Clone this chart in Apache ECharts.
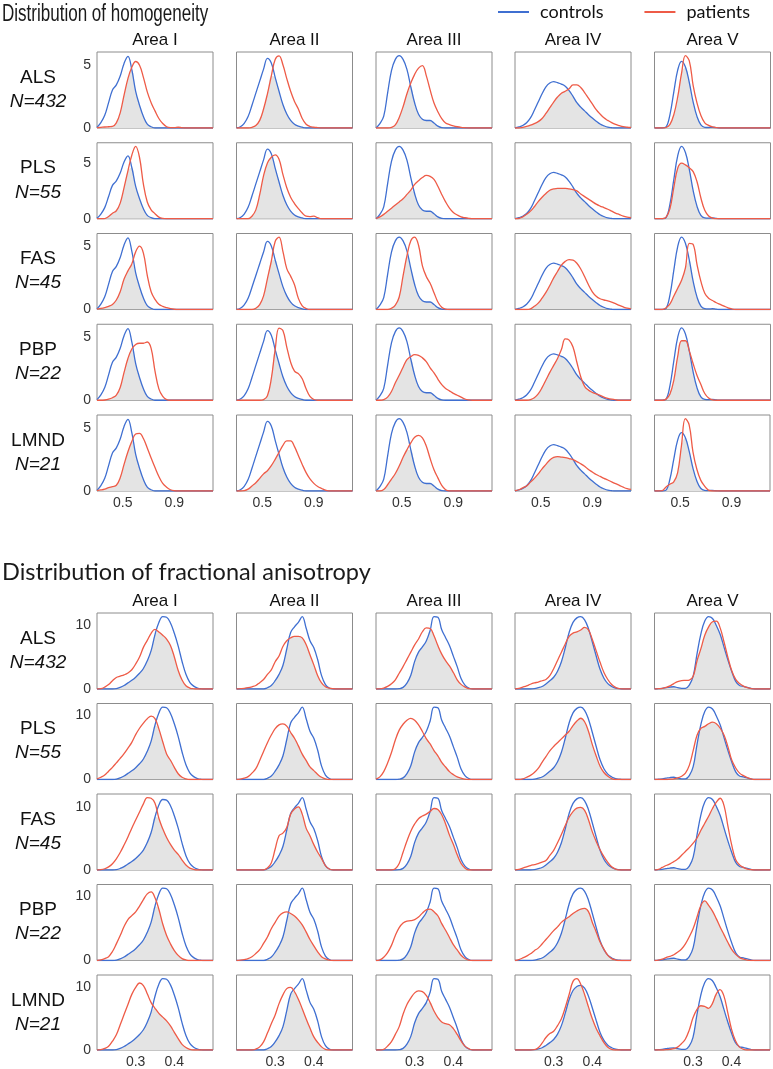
<!DOCTYPE html>
<html><head><meta charset="utf-8">
<script src="https://cdn.jsdelivr.net/npm/echarts@6/dist/echarts.min.js"></script>
<style>html,body{margin:0;padding:0;background:#fff}#c{width:773px;height:1069px}</style>
</head><body><div id="c"></div>
<script>
// ---------- labels ----------
const groups = ['ALS', 'PLS', 'FAS', 'PBP', 'LMND'];
const groupN = ['N=432', 'N=55', 'N=45', 'N=22', 'N=21'];
const areas = ['Area I', 'Area II', 'Area III', 'Area IV', 'Area V'];
const sectionTitles = ['Distribution of homogeneity', 'Distribution of fractional anisotropy'];
const seriesNames = ['controls', 'patients'];

// ---------- homogeneity: x grid, tick labels ----------
const homogX = [0.30,0.33,0.36,0.39,0.42,0.45,0.48,0.51,0.54,0.57,0.60,0.63,0.66,0.69,0.72,0.75,0.78,0.81,0.84,0.87,0.90,0.93,0.96,0.99,1.02,1.05,1.08,1.11,1.14,1.17,1.20];
const homogTicks = [0.5, 0.9];
// controls density, one array per area (I..V)
const homogControls = [
  [0.05,0.42,1.0,2.0,3.0,3.4,4.1,5.1,5.65,4.6,2.9,1.8,0.9,0.3,0.1,0,0,0,0,0,0,0,0,0,0,0,0,0,0,0,0],
  [0,0.1,0.37,0.9,1.8,2.75,3.7,4.65,5.5,5.13,4.0,2.9,1.85,1.1,0.6,0.3,0.15,0.06,0,0,0,0,0,0,0,0,0,0,0,0,0],
  [0,0.35,0.95,2.8,4.6,5.5,5.8,5.5,4.7,3.3,2.0,1.1,0.7,0.6,0.6,0.4,0.15,0.03,0,0,0,0,0,0,0,0,0,0,0,0,0],
  [0,0.08,0.2,0.42,0.8,1.4,2.05,2.7,3.25,3.55,3.66,3.58,3.47,3.3,2.95,2.5,2.0,1.65,1.35,1.05,0.78,0.54,0.32,0.17,0.06,0.02,0,0,0,0,0],
  [0,0,0,0.1,1.3,3.5,5.6,6.45,5.9,4.4,2.5,1.1,0.3,0.07,0.05,0.07,0.03,0,0,0,0,0,0,0,0,0,0,0,0,0,0]
];
// patients density, one array per group, one row per area (I..V)
const homogALS = [
  [0.02,0.05,0.08,0.1,0.12,0.4,1.2,2.6,3.9,4.8,5.25,4.95,4.0,2.85,2.0,1.35,0.75,0.35,0.1,0.03,0.03,0.06,0.02,0,0,0,0,0,0,0,0],
  [0,0,0,0,0.05,0.2,0.6,1.5,2.7,4.1,5.4,5.7,5.0,3.9,2.9,2.1,1.5,0.75,0.3,0.12,0.06,0.03,0,0,0,0,0,0,0,0,0],
  [0,0,0,0,0.05,0.25,0.85,1.7,2.75,3.6,4.3,4.8,5.0,4.2,3.05,2.0,1.3,0.75,0.4,0.27,0.17,0.1,0.05,0.02,0,0,0,0,0,0,0],
  [0,0,0.05,0.12,0.22,0.35,0.5,0.75,1.15,1.6,2.05,2.45,2.75,2.9,3.1,3.4,3.4,3.2,2.8,2.35,1.9,1.45,1.1,0.8,0.6,0.42,0.28,0.18,0.1,0.06,0.04],
  [0,0,0,0.05,0.35,1.3,3.0,5.3,7.0,6.5,4.1,2.4,1.2,0.5,0.25,0.1,0.03,0,0,0,0,0,0,0,0,0,0,0,0,0,0]
];
const homogPLS = [
  [0,0,0.02,0.2,0.5,0.72,1.4,2.8,4.3,5.7,6.5,5.5,3.1,1.5,0.8,0.45,0.15,0.03,0,0,0,0,0,0,0,0,0,0,0,0,0],
  [0,0,0,0,0.2,0.7,1.9,3.4,4.4,4.85,5.05,4.7,3.5,2.45,1.7,1.2,0.8,0.45,0.2,0.17,0.2,0.08,0,0,0,0,0,0,0,0,0],
  [0.02,0.15,0.35,0.6,0.85,1.1,1.35,1.6,1.95,2.3,2.75,3.05,3.3,3.48,3.4,3.15,2.6,1.95,1.35,0.85,0.5,0.3,0.15,0.08,0.03,0,0,0,0,0,0],
  [0,0.02,0.15,0.35,0.6,0.95,1.35,1.7,2.0,2.25,2.35,2.4,2.4,2.4,2.35,2.3,2.2,1.95,1.75,1.55,1.35,1.15,1.0,0.88,0.75,0.6,0.45,0.33,0.2,0.12,0.08],
  [0,0,0,0.15,0.9,2.8,4.5,4.95,4.8,4.55,4.2,3.3,1.85,0.75,0.25,0.05,0,0,0,0,0,0,0,0,0,0,0,0,0,0,0]
];
const homogFAS = [
  [0.03,0.08,0.15,0.25,0.4,0.75,1.4,2.4,3.05,3.6,4.55,5.0,4.45,2.7,1.4,0.8,0.42,0.25,0.15,0.07,0.02,0,0,0,0,0,0,0,0,0,0],
  [0,0,0,0,0,0.1,0.4,1.1,2.5,3.9,5.5,5.85,4.7,3.3,2.7,2.0,0.9,0.3,0.08,0,0,0,0,0,0,0,0,0,0,0,0],
  [0,0,0,0,0.1,0.35,1.0,2.7,4.3,5.5,5.8,5.15,3.5,2.65,2.1,1.35,0.6,0.18,0.03,0,0,0,0,0,0,0,0,0,0,0,0],
  [0,0,0,0,0.05,0.25,0.5,0.9,1.35,1.9,2.5,3.0,3.5,3.8,3.93,3.9,3.65,3.2,2.6,1.95,1.4,1.05,0.85,0.75,0.68,0.58,0.46,0.32,0.2,0.1,0.05],
  [0,0,0,0.15,0.5,1.2,1.9,2.6,3.7,5.9,5.8,4.0,2.5,1.45,1.0,0.8,0.6,0.45,0.3,0.15,0.05,0,0,0,0,0,0,0,0,0,0]
];
const homogPBP = [
  [0,0,0.02,0.08,0.2,0.4,1.0,2.2,3.3,4.05,4.4,4.5,4.5,4.6,4.1,2.3,0.9,0.3,0.05,0,0,0,0,0,0,0,0,0,0,0,0],
  [0,0,0,0,0,0,0,0.05,0.35,1.7,4.0,5.7,5.5,4.2,3.0,2.3,2.1,1.7,0.9,0.3,0.06,0,0,0,0,0,0,0,0,0,0],
  [0,0,0.05,0.25,0.7,1.4,2.0,2.65,3.25,3.5,3.65,3.6,3.4,3.1,2.6,2.2,1.7,1.25,0.95,0.75,0.55,0.4,0.25,0.1,0.03,0,0,0,0,0,0],
  [0,0,0,0,0.05,0.2,0.5,1.0,1.6,2.2,2.75,3.3,4.0,4.85,4.75,4.2,3.0,1.85,1.1,0.8,0.62,0.5,0.38,0.25,0.15,0.08,0.03,0,0,0,0],
  [0,0,0,0.1,0.55,1.8,3.9,5.3,5.3,4.4,3.25,2.2,1.4,0.6,0.2,0.03,0,0,0,0,0,0,0,0,0,0,0,0,0,0,0]
];
const homogLMND = [
  [0.03,0.08,0.15,0.27,0.35,0.45,1.05,2.1,3.1,3.9,4.5,4.55,4.15,3.4,2.6,1.85,1.15,0.6,0.3,0.1,0.02,0,0,0,0,0,0,0,0,0,0],
  [0,0,0.03,0.15,0.4,0.65,1.0,1.35,1.6,2.0,2.5,3.05,3.6,3.95,3.95,3.5,2.8,2.1,1.45,0.95,0.6,0.35,0.2,0.07,0,0,0,0,0,0,0],
  [0,0,0.12,0.5,0.95,1.4,2.0,2.7,3.3,3.85,4.3,4.45,4.25,3.6,2.6,1.7,1.05,0.45,0.1,0,0,0,0,0,0,0,0,0,0,0,0],
  [0.02,0.1,0.25,0.4,0.7,1.0,1.35,1.75,2.1,2.45,2.65,2.72,2.68,2.63,2.56,2.48,2.32,2.15,1.95,1.7,1.5,1.3,1.15,1.0,0.87,0.72,0.58,0.45,0.3,0.18,0.12],
  [0,0,0.05,0.45,0.75,1.0,2.0,5.0,8.0,7.3,4.3,2.4,1.2,0.55,0.1,0,0,0,0,0,0,0,0,0,0,0,0,0,0,0,0]
];

// ---------- fractional anisotropy ----------
const faX = [0.20,0.21,0.22,0.23,0.24,0.25,0.26,0.27,0.28,0.29,0.30,0.31,0.32,0.33,0.34,0.35,0.36,0.37,0.38,0.39,0.40,0.41,0.42,0.43,0.44,0.45,0.46,0.47,0.48,0.49,0.50];
const faTicks = [0.3, 0.4];
const faControls = [
  [0,0,0,0,0,0.05,0.25,0.55,0.95,1.35,1.85,2.45,3.2,4.4,6.0,8.5,10.4,11.3,11.2,10.3,8.7,6.7,4.3,2.3,1.05,0.45,0.15,0.03,0,0,0],
  [0,0,0,0,0,0,0,0,0.2,0.55,1.3,2.3,3.7,6.3,8.9,9.8,10.5,11.4,9.6,7.6,6.5,4.6,2.1,0.7,0.15,0,0,0,0,0,0],
  [0,0,0,0,0,0,0.05,0.25,0.9,2.1,4.2,5.6,6.4,7.3,8.9,11.0,10.9,9.0,7.8,6.6,5.0,3.4,1.6,0.6,0.15,0,0,0,0,0,0],
  [0,0,0,0,0,0.05,0.2,0.4,0.8,1.3,1.85,2.8,4.3,6.5,8.9,10.5,11.2,11.4,10.9,9.5,7.4,5.2,3.1,1.7,0.85,0.4,0.15,0.05,0,0,0],
  [0,0.05,0.1,0.2,0.3,0.35,0.2,0.1,0.1,0.6,2.0,5.5,8.6,10.6,11.3,11.0,9.9,8.5,6.5,4.5,2.7,1.2,0.55,0.4,0.25,0.08,0,0,0,0,0]
];
const faALS = [
  [0,0.05,0.3,0.7,1.3,1.8,2.0,2.2,2.5,3.0,3.9,5.0,6.5,7.6,8.7,9.3,8.9,8.4,7.8,6.8,5.0,2.9,1.4,0.5,0.15,0.03,0,0,0,0,0],
  [0,0.05,0.1,0.2,0.35,0.55,1.0,1.5,2.3,3.0,4.3,5.2,6.7,7.6,8.05,8.3,8.3,8.05,7.0,5.4,3.8,2.1,0.95,0.35,0.15,0.05,0,0,0,0,0],
  [0,0.02,0.15,0.4,0.8,1.4,2.4,3.4,4.5,5.6,6.7,7.6,8.7,9.3,9.2,8.1,6.6,5.3,4.3,3.5,2.5,1.4,0.7,0.3,0.05,0,0,0,0,0,0],
  [0,0.1,0.3,0.5,0.75,0.95,1.1,1.3,1.5,2.1,3.2,4.5,5.8,7.1,8.3,8.8,9.0,9.3,9.7,9.3,7.8,6.0,4.2,2.6,1.5,0.7,0.25,0.05,0,0,0],
  [0,0.05,0.1,0.25,0.5,0.85,1.15,1.3,1.35,1.4,2.0,4.4,6.3,8.4,9.7,10.5,10.6,9.5,7.3,4.9,2.8,1.5,0.85,0.45,0.2,0.05,0,0,0,0,0]
];
const faPLS = [
  [0.1,0.35,0.7,1.3,1.9,2.6,3.3,4.05,4.9,5.8,7.0,8.0,8.8,9.5,9.9,9.5,7.9,5.9,4.0,3.0,1.9,0.9,0.35,0.1,0,0,0,0,0,0,0],
  [0,0.05,0.2,0.45,1.0,1.7,3.0,4.4,5.8,7.0,8.0,8.6,8.75,8.4,7.4,6.5,5.3,4.0,3.0,2.0,1.4,0.8,0.35,0.1,0,0,0,0,0,0,0],
  [0.05,0.4,1.2,2.5,4.1,6.0,7.5,8.4,9.0,9.28,9.0,8.3,7.3,6.2,5.4,4.4,3.6,2.6,1.9,1.2,0.75,0.4,0.2,0.05,0,0,0,0,0,0,0],
  [0,0,0.1,0.35,0.65,1.1,1.75,2.7,3.6,4.5,5.2,5.8,6.4,7.0,7.6,8.5,9.2,9.65,9.1,7.6,5.5,3.7,2.1,1.1,0.5,0.15,0,0,0,0,0],
  [0,0,0,0,0.05,0.1,0.25,0.5,1.0,2.2,4.5,6.9,8.0,8.3,8.7,8.95,8.7,8.0,6.9,5.1,3.0,1.8,1.0,0.6,0.3,0.1,0,0,0,0,0]
];
const faFAS = [
  [0,0.05,0.2,0.5,1.0,1.8,2.8,4.0,5.3,6.7,8.0,9.3,10.6,11.6,11.5,10.7,8.3,6.6,5.2,4.1,3.2,2.5,1.6,0.8,0.3,0.1,0,0,0,0,0],
  [0,0,0,0,0,0,0,0,0.3,1.1,3.3,5.4,5.8,6.7,8.8,9.6,9.95,8.8,6.6,5.4,4.0,2.8,1.8,0.7,0.15,0,0,0,0,0,0],
  [0,0,0,0,0,0.2,1.0,2.7,4.4,5.9,7.0,7.8,8.2,8.5,8.9,9.35,9.2,8.4,7.0,5.3,3.9,2.3,1.0,0.3,0,0,0,0,0,0,0],
  [0,0.1,0.3,0.5,0.7,0.85,1.0,1.25,1.5,2.3,3.1,4.3,5.6,7.0,8.3,9.2,9.75,9.85,9.4,7.9,6.0,4.5,3.2,2.1,1.2,0.5,0.15,0,0,0,0],
  [0,0.1,0.4,0.7,0.95,1.3,1.7,2.3,2.9,3.5,4.2,5.0,6.2,7.3,8.4,9.6,10.6,11.2,10.0,6.8,3.8,1.6,0.8,0.4,0.15,0.05,0,0,0,0,0]
];
const faPBP = [
  [0,0.1,0.3,0.6,1.4,2.6,3.9,5.3,6.4,7.0,7.6,8.5,9.5,10.4,10.7,9.8,8.0,5.7,3.9,2.6,1.55,0.8,0.3,0.1,0,0,0,0,0,0,0],
  [0,0.05,0.15,0.3,0.6,1.1,1.7,2.7,3.7,5.0,6.0,7.0,7.5,7.65,7.4,7.0,6.4,5.6,4.5,3.3,2.3,1.35,0.6,0.25,0.05,0,0,0,0,0,0],
  [0,0.1,0.5,1.2,2.3,3.8,5.0,5.7,6.0,6.05,6.2,6.6,7.2,7.7,7.8,7.4,6.8,5.6,4.6,3.5,2.4,1.6,0.8,0.3,0.05,0,0,0,0,0,0],
  [0,0.15,0.4,0.7,1.05,1.55,1.95,2.6,3.3,4.0,4.7,5.3,6.0,6.5,6.9,7.4,7.8,8.1,8.2,7.7,6.0,4.5,2.9,1.8,0.8,0.3,0.1,0,0,0,0],
  [0,0.05,0.2,0.45,0.65,0.9,1.3,1.8,2.6,3.7,5.0,6.8,8.6,9.3,8.6,7.7,6.5,5.2,4.0,2.8,1.7,0.95,0.45,0.2,0.05,0,0,0,0,0,0]
];
const faLMND = [
  [0,0.05,0.25,0.6,1.4,2.4,4.0,5.6,7.2,8.8,9.9,10.6,10.2,8.9,7.5,6.6,5.8,5.2,4.6,3.8,2.8,1.8,0.9,0.4,0.1,0,0,0,0,0,0],
  [0,0,0,0,0,0.15,0.5,1.3,2.7,4.2,5.6,7.4,8.8,9.8,10.0,9.3,8.1,6.6,5.0,3.5,2.1,1.2,0.5,0.1,0,0,0,0,0,0,0],
  [0,0,0.1,0.6,1.3,2.4,3.6,5.5,7.0,8.0,8.8,9.1,9.0,8.4,7.3,6.0,5.0,4.3,4.05,3.9,3.3,2.4,1.4,0.6,0.2,0,0,0,0,0,0],
  [0,0,0,0,0,0.05,0.4,1.2,2.2,2.9,3.3,4.3,5.5,7.5,9.8,12.1,12.6,11.6,9.8,7.6,5.5,3.8,2.5,1.3,0.5,0.1,0,0,0,0,0],
  [0,0,0,0.05,0.1,0.2,0.45,1.0,1.7,3.1,5.1,6.4,7.0,6.9,6.6,7.3,8.8,9.55,8.6,6.0,3.3,1.5,0.5,0.15,0,0,0,0,0,0,0]
];

// ---------- layout / style ----------
const BLUE = '#3f6fd1', RED = '#ee5b47', FILL = '#e4e4e4';
const AX_FONT = 'Liberation Sans, Arial, Helvetica, sans-serif';
const colLefts = [97, 236.5, 376, 515, 654.5];
const PW = 116, PH = 76;
const sections = [
  { title: sectionTitles[0], titleY: 15, titleFont: '23px ' + AX_FONT, titleScale: 0.74,
    x: homogX, ctrl: homogControls, pats: [homogALS, homogPLS, homogFAS, homogPBP, homogLMND],
    tops: [52, 142.75, 233.5, 324.25, 415], xmin: 0.3, xmax: 1.2, ticks: homogTicks, yInt: 5, yFloor: 6 },
  { title: sectionTitles[1], titleY: 572, titleFont: '23.5px Lato, Open Sans, sans-serif', titleScale: 1,
    x: faX, ctrl: faControls, pats: [faALS, faPLS, faFAS, faPBP, faLMND],
    tops: [613, 703.5, 794, 884.5, 975], xmin: 0.2, xmax: 0.5, ticks: faTicks, yInt: 10, yFloor: 0 }
];

const grid = [], xAxis = [], yAxis = [], series = [], graphic = [];
let k = 0;
sections.forEach(function (s) {
  graphic.push({ type: 'text', x: 2, y: s.titleY, scaleX: s.titleScale,
    style: { text: s.title, font: s.titleFont, fill: '#1a1a1a', textAlign: 'left', textVerticalAlign: 'middle' } });
  areas.forEach(function (a, c) {
    graphic.push({ type: 'text', x: colLefts[c] + PW / 2, y: s.tops[0] - 12,
      style: { text: a, font: '17px ' + AX_FONT, fill: '#111', textAlign: 'center', textVerticalAlign: 'middle' } });
  });
  groups.forEach(function (g, r) {
    const cy = s.tops[r] + PH / 2;
    graphic.push({ type: 'text', x: 38, y: cy - 12.5,
      style: { text: g, font: '19px ' + AX_FONT, fill: '#111', textAlign: 'center', textVerticalAlign: 'middle' } });
    graphic.push({ type: 'text', x: 38, y: cy + 11.5,
      style: { text: groupN[r], font: 'italic 19px ' + AX_FONT, fill: '#111', textAlign: 'center', textVerticalAlign: 'middle' } });
    areas.forEach(function (a, c) {
      const ctrl = s.ctrl[c], pat = s.pats[r][c];
      const dmax = Math.max(Math.max.apply(null, ctrl), Math.max.apply(null, pat));
      const yMax = Math.max(s.yFloor, dmax * 1.05);
      grid.push({ left: colLefts[c], top: s.tops[r], width: PW, height: PH, show: true,
        borderColor: '#8c8c8c', borderWidth: 1, backgroundColor: '#fff' });
      const ticks = s.ticks;
      xAxis.push({ gridIndex: k, type: 'value', min: s.xmin, max: s.xmax, interval: 0.1,
        axisLine: { show: false }, axisTick: { show: false }, splitLine: { show: false },
        axisLabel: { show: r === 4, margin: 5, fontSize: 14, color: '#333', fontFamily: AX_FONT,
          formatter: function (v) { return ticks.some(function (t) { return Math.abs(t - v) < 1e-6; }) ? v.toFixed(1) : ''; } } });
      const yInt = s.yInt;
      yAxis.push({ gridIndex: k, type: 'value', min: 0, max: yMax, interval: yInt,
        axisLine: { show: false }, axisTick: { show: false }, splitLine: { show: false },
        axisLabel: { show: c === 0, margin: 6, fontSize: 14, color: '#333', fontFamily: AX_FONT,
          formatter: function (v) { return Math.abs(v / yInt - Math.round(v / yInt)) < 1e-6 ? String(Math.round(v)) : ''; } } });
      series.push({ type: 'line', name: 'overlap', xAxisIndex: k, yAxisIndex: k, silent: true, z: 1,
        data: s.x.map(function (xv, i) { return [xv, Math.min(ctrl[i], pat[i])]; }),
        smooth: 0.4, symbol: 'none', lineStyle: { width: 0, opacity: 0 }, areaStyle: { color: FILL, opacity: 1 } });
      series.push({ type: 'line', name: seriesNames[0], xAxisIndex: k, yAxisIndex: k, z: 2,
        data: s.x.map(function (xv, i) { return [xv, ctrl[i]]; }),
        smooth: 0.4, symbol: 'none', color: BLUE, lineStyle: { width: 1.3, color: BLUE } });
      series.push({ type: 'line', name: seriesNames[1], xAxisIndex: k, yAxisIndex: k, z: 3,
        data: s.x.map(function (xv, i) { return [xv, pat[i]]; }),
        smooth: 0.4, symbol: 'none', color: RED, lineStyle: { width: 1.3, color: RED } });
      k++;
    });
  });
});

const chart = echarts.init(document.getElementById('c'), null, { renderer: 'canvas' });
chart.setOption({
  animation: false,
  backgroundColor: '#fff',
  legend: { data: [{ name: 'controls', icon: 'rect' }, { name: 'patients', icon: 'rect' }],
    left: 498, top: 3, padding: 0, itemWidth: 31, itemHeight: 2, itemGap: 41,
    textStyle: { fontFamily: 'Lato, Open Sans, sans-serif', fontSize: 18, color: '#111', padding: [0, 0, 0, 6] } },
  grid: grid, xAxis: xAxis, yAxis: yAxis, series: series, graphic: graphic
});
</script>
</body></html>
